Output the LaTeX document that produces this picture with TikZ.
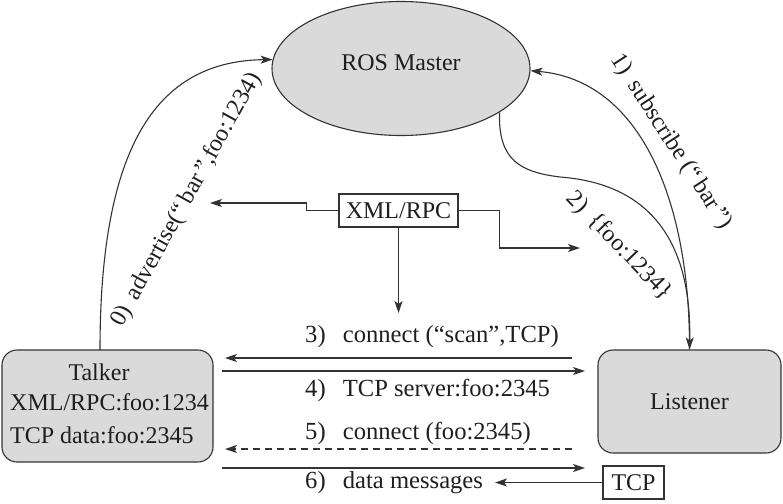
\documentclass[tikz,border=0pt]{standalone}
\usepackage{fontspec}
\setmainfont{Liberation Serif}
\usetikzlibrary{arrows.meta,shapes.geometric}
\definecolor{ln}{HTML}{333333}
\definecolor{tx}{HTML}{1E1E1E}
\definecolor{boxfill}{HTML}{DADADA}
\begin{document}
\begin{tikzpicture}[x=1pt,y=-1pt,
  every node/.style={font=\fontsize{24}{28}\selectfont, text=tx, inner sep=0pt},
  conn/.style={draw=ln, line width=1.1pt},
  arr/.style={conn, -{Stealth[length=12pt,width=8pt,inset=3pt]}},
  shaded/.style={draw=ln, line width=1.1pt, fill=boxfill},
  plainbox/.style={draw=ln, line width=1.1pt, fill=white},
  lbl/.style={anchor=west, font=\fontsize{24.6}{28}\selectfont}]
\useasboundingbox (0,0) rectangle (783,503);

% nodes
\node[shaded, ellipse, minimum width=258pt, minimum height=134pt] (master) at (401,68.5) {};
\node (mastertext) at (401,63) {ROS Master};

\node[shaded, rectangle, rounded corners=15pt, minimum width=211pt, minimum height=112pt] (talker) at (107.5,406) {};
\node (talkerA) at (99,372) {Talker};
\node[anchor=west] (talkerB) at (10,402) {XML/RPC:foo:1234};
\node[anchor=west] (talkerC) at (10,435) {TCP data:foo:2345};

\node[shaded, rectangle, rounded corners=15pt, minimum width=183pt, minimum height=103pt] (listener) at (689.5,401.5) {Listener};

\node[plainbox, rectangle, minimum width=119pt, minimum height=33pt] (xml) at (398.5,210.5) {XML/RPC};
\node[plainbox, rectangle, minimum width=61pt, minimum height=33pt] (tcp) at (633.5,482.5) {TCP};

% free ends
\coordinate (xl) at (210,203);
\coordinate (xr) at (580,248);
\coordinate (xd) at (398.5,313);
\coordinate (talkertop) at (100,350);
\coordinate (a3r) at (572,358);
\coordinate (a3l) at (225,358);
\coordinate (a4l) at (222,371);
\coordinate (a4r) at (585,371);
\coordinate (a5r) at (572,449);
\coordinate (a5l) at (225,449);
\coordinate (a6l) at (222,468);
\coordinate (a6r) at (585,468);
\coordinate (a7) at (495,482.5);

% XML/RPC connectors
\draw[arr] (xml.west) -- ++(-32,0) |- (xl);
\draw[arr] (xml.east) -- ++(41,0) |- (xr);
\draw[arr] (xml.south) -- (xd);

% curves to and from the master
\draw[arr] (talkertop) .. controls (100,140) and (160,61) .. (master.176.5);
\draw[arr] (listener.north) .. controls (690,200) and (640,80) .. (master.-1);
\draw[arr] (master.-24.5) .. controls (498,160) and (520,172) .. (560,177)
  .. controls (640,183) and (692,230) .. (listener.north);

% curve labels
\node[rotate=61] (l0) at (186.5,200) {0)\hspace{0.45em}advertise(“\,bar\,”,foo:1234)};
\node[rotate=-57] (l1) at (671,142) {1)\hspace{0.45em}subscribe (“\,bar\,”)};
\node[rotate=-46] (l2) at (619,246) {2)\hspace{0.45em}\{foo:1234\}};

% horizontal messages
\draw[arr] (a3r) -- (a3l);
\draw[arr] (a4l) -- (a4r);
\draw[arr, dash pattern=on 7pt off 5pt] (a5r) -- (a5l);
\draw[arr] (a6l) -- (a6r);
\draw[arr] (tcp.west) -- (a7);

\node[lbl] (l3) at (305,337) {3)\hspace{0.7em}connect (“scan”,TCP)};
\node[lbl] (l4) at (305,390) {4)\hspace{0.7em}TCP server:foo:2345};
\node[lbl] (l5) at (305,433) {5)\hspace{0.7em}connect (foo:2345)};
\node[lbl] (l6) at (305,483) {6)\hspace{0.7em}data messages};
\end{tikzpicture}
\end{document}
